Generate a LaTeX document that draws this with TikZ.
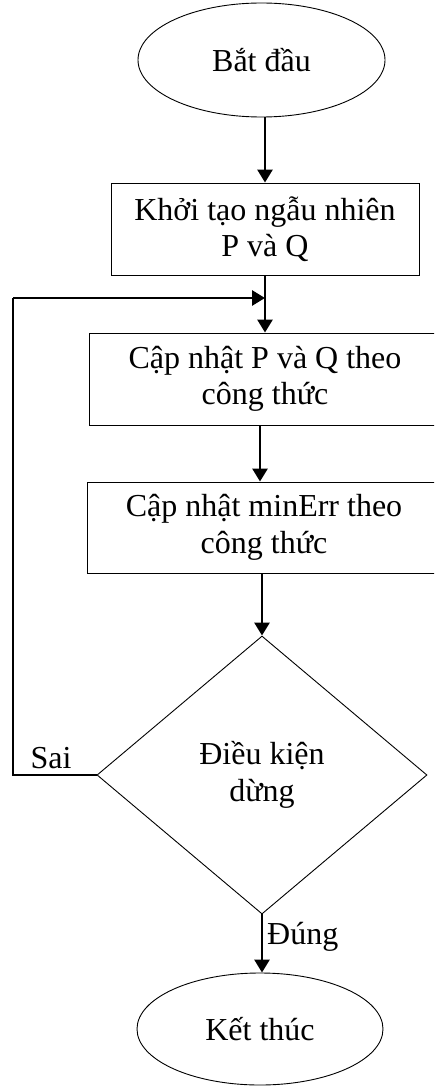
\documentclass[tikz,border=0pt]{standalone}
\usepackage{fontspec}
\setmainfont{Liberation Serif}
\usetikzlibrary{shapes.geometric,arrows.meta}
\begin{document}
\begin{tikzpicture}[x=1pt,y=-1pt,
  every node/.style={font=\fontsize{32}{36.5}\selectfont, inner sep=0pt, align=center},
  terminal/.style={draw, line width=0.9pt, ellipse},
  procbox/.style={draw, line width=0.9pt, rectangle},
  decision/.style={draw, line width=0.9pt, diamond},
  flow/.style={line width=2.8pt, -{Triangle[length=13pt,width=15pt]}},
  loopline/.style={line width=2.8pt},
  lbl/.style={font=\fontsize{32}{36.5}\selectfont}]
\useasboundingbox (0,0) rectangle (434,1086);
\clip (0,0) rectangle (434,1086);

% nodes
\node[terminal, minimum width=247pt, minimum height=114pt] (start) at (261.5,60) {Bắt đầu};
\node[procbox, minimum width=308pt, minimum height=92pt] (init) at (265,229) {Khởi tạo ngẫu nhiên\\P và Q};
\node[procbox, minimum width=352pt, minimum height=92pt] (updPQ) at (265,379) {Cập nhật P và Q theo\\công thức};
\node[procbox, minimum width=354pt, minimum height=91pt] (updErr) at (264,527.5) {Cập nhật minErr theo\\công thức};
\node[decision, minimum width=330pt, minimum height=278pt] (cond) at (262,775) {Điều kiện\\dừng};
\node[terminal, minimum width=246pt, minimum height=112pt] (stop) at (260,1029) {Kết thúc};

% loop-back path coordinates
\coordinate (lpA) at (13,775);
\coordinate (lpB) at (13,298);
\coordinate (merge) at (265,298);

% connectors
\draw[flow] (init.north |- start.south) -- (init.north);
\draw[flow] (init.south) -- (updPQ.north);
\draw[flow] ([xshift=-4pt]updErr.north |- updPQ.south) -- ([xshift=-4pt]updErr.north);
\draw[flow] (cond.north |- updErr.south) -- (cond.north);
\draw[flow] (cond.south) -- (cond.south |- stop.north);
\draw[loopline] (cond.west) -- (lpA) -- (lpB);
\draw[flow] (lpB) -- (merge);

% branch labels
\node[lbl] (sai) at (51,758) {Sai};
\node[lbl, anchor=west] (dung) at (267,937) {Đúng};
\end{tikzpicture}
\end{document}
